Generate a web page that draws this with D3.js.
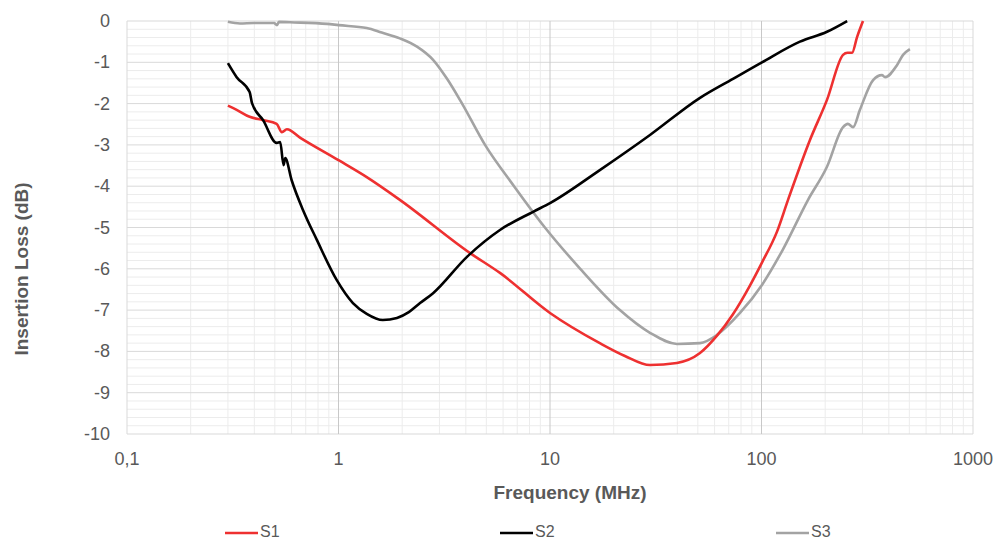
<!DOCTYPE html>
<html>
<head>
<meta charset="utf-8">
<script src="https://cdn.jsdelivr.net/npm/d3@7"></script>
<style>
  body { margin: 0; background: #fff; }
  svg { font-family: "Liberation Sans", Arial, sans-serif; }
</style>
</head>
<body>
<svg id="chart" width="997" height="541"></svg>
<script>
// series data: frequency (MHz) and insertion loss (dB)
var s1Freq = [0.30,0.33,0.38,0.44,0.51,0.54,0.57,0.66,1.0,1.36,1.95,4.19,5.8,10,17.2,22.6,29.7,39.8,51.2,61.6,73.3,88.3,100.5,118.4,133.5,169.5,204,243,255,268,283,302];
var s1Loss = [-2.05,-2.15,-2.32,-2.40,-2.49,-2.69,-2.62,-2.83,-3.37,-3.78,-4.33,-5.62,-6.10,-7.07,-7.80,-8.11,-8.33,-8.28,-8.04,-7.62,-7.10,-6.40,-5.85,-5.10,-4.33,-2.88,-1.91,-0.82,-0.77,-0.77,-0.39,0];

var s2Freq = [0.30,0.33,0.38,0.39,0.44,0.51,0.53,0.55,0.56,0.60,0.68,0.79,0.98,1.17,1.36,1.62,1.89,2.15,2.43,2.80,4.05,5.8,8.32,10,17.2,29.7,51.2,73.3,100.5,152,204,254];
var s2Loss = [-1.02,-1.36,-1.72,-1.99,-2.40,-2.95,-2.93,-3.49,-3.32,-3.85,-4.58,-5.30,-6.27,-6.83,-7.09,-7.24,-7.19,-7.05,-6.83,-6.59,-5.71,-5.06,-4.62,-4.41,-3.61,-2.76,-1.86,-1.40,-1.00,-0.50,-0.26,0];

var s3Freq = [0.30,0.342,0.398,0.496,0.512,0.523,0.59,0.883,1.0,1.36,1.6,1.95,2.35,2.80,3.26,3.84,4.93,6.76,9.46,13.9,21.4,29.7,39.8,51.2,61.6,79.1,100.5,126,166,204,243,256,271,292,337,371,384,437,467,503];
var s3Loss = [-0.02,-0.06,-0.05,-0.05,-0.10,-0.02,-0.03,-0.07,-0.10,-0.17,-0.28,-0.42,-0.62,-0.94,-1.40,-2.00,-3.00,-4.00,-5.00,-6.00,-7.00,-7.55,-7.82,-7.80,-7.60,-7.07,-6.39,-5.54,-4.33,-3.53,-2.57,-2.49,-2.57,-2.15,-1.43,-1.31,-1.36,-1.07,-0.82,-0.68];

var seriesNames = ["S1", "S2", "S3"];
var seriesColors = ["#ee3030", "#000000", "#a3a3a3"];
var xTicks = [0.1, 1, 10, 100, 1000];
var xTickLabels = ["0,1", "1", "10", "100", "1000"];
var yTicks = [0,-1,-2,-3,-4,-5,-6,-7,-8,-9,-10];

var svg = d3.select("#chart");
var plotL = 127, plotR = 973, plotT = 21, plotB = 434;
var textCol = "#595959";

var x = d3.scaleLog().domain([0.1, 1000]).range([plotL, plotR]);
var y = d3.scaleLinear().domain([-10, 0]).range([plotB, plotT]);

// grid
var grid = svg.append("g").attr("id", "gridg");
var minorY = d3.range(-10, 0.001, 0.2).filter(function(v){ return Math.abs(v - Math.round(v)) > 0.01; });
grid.selectAll(".minY").data(minorY).enter().append("line")
  .attr("x1", plotL).attr("x2", plotR)
  .attr("y1", function(d){ return y(d); }).attr("y2", function(d){ return y(d); })
  .style("stroke", "#ececec").style("stroke-width", 1);
var minorX = [];
[0.1, 1, 10, 100].forEach(function(dec){ for (var k=2;k<=9;k++) minorX.push(dec*k); });
grid.selectAll(".minX").data(minorX).enter().append("line")
  .attr("y1", plotT).attr("y2", plotB)
  .attr("x1", function(d){ return x(d); }).attr("x2", function(d){ return x(d); })
  .style("stroke", "#ececec").style("stroke-width", 1);
grid.selectAll(".majY").data(yTicks).enter().append("line")
  .attr("x1", plotL).attr("x2", plotR)
  .attr("y1", function(d){ return y(d); }).attr("y2", function(d){ return y(d); })
  .style("stroke", "#d9d9d9").style("stroke-width", 1);
grid.selectAll(".majX").data(xTicks).enter().append("line")
  .attr("y1", plotT).attr("y2", plotB)
  .attr("x1", function(d){ return x(d); }).attr("x2", function(d){ return x(d); })
  .style("stroke", function(d){ return (d==0.1||d==1000) ? "#d9d9d9" : "#c8c8c8"; })
  .style("stroke-width", 1);

// tick labels
svg.append("g").selectAll("text").data(yTicks).enter().append("text")
  .attr("x", plotL - 17).attr("y", function(d){ return y(d) + 6; })
  .attr("text-anchor", "end").style("font-size", "18px").style("fill", textCol)
  .text(function(d){ return d; });
svg.append("g").selectAll("text").data(xTicks).enter().append("text")
  .attr("x", function(d){ return x(d); }).attr("y", 465)
  .attr("text-anchor", "middle").style("font-size", "18px").style("fill", textCol)
  .text(function(d,i){ return xTickLabels[i]; });

// axis titles
svg.append("text").attr("x", 570).attr("y", 499).attr("text-anchor", "middle")
  .style("font-size", "19px").style("font-weight", "bold").style("fill", textCol)
  .text("Frequency (MHz)");
svg.append("text").attr("transform", "translate(28,269) rotate(-90)").attr("text-anchor", "middle")
  .style("font-size", "19px").style("font-weight", "bold").style("fill", textCol)
  .text("Insertion Loss (dB)");

// lines
var allFreq = [s1Freq, s2Freq, s3Freq], allLoss = [s1Loss, s2Loss, s3Loss];
var line = d3.line().x(function(d){ return x(d[0]); }).y(function(d){ return y(d[1]); }).curve(d3.curveMonotoneX);
var order = [2, 0, 1];
order.forEach(function(i){
  var pts = allFreq[i].map(function(f, j){ return [f, allLoss[i][j]]; });
  svg.append("path").datum(pts).attr("d", line)
    .style("fill", "none").style("stroke", seriesColors[i]).style("stroke-width", 2.6)
    .style("stroke-linejoin", "round");
});

// legend
var legX = [225, 500, 776];
var leg = svg.append("g").selectAll("g").data(seriesNames).enter().append("g");
leg.append("line").attr("x1", function(d,i){ return legX[i]; }).attr("x2", function(d,i){ return legX[i] + 33; })
  .attr("y1", 533).attr("y2", 533)
  .style("stroke", function(d,i){ return seriesColors[i]; }).style("stroke-width", 2.6);
leg.append("text").attr("x", function(d,i){ return legX[i] + 35; }).attr("y", 537)
  .style("font-size", "16px").style("fill", textCol).text(function(d){ return d; });
</script>
</body>
</html>
